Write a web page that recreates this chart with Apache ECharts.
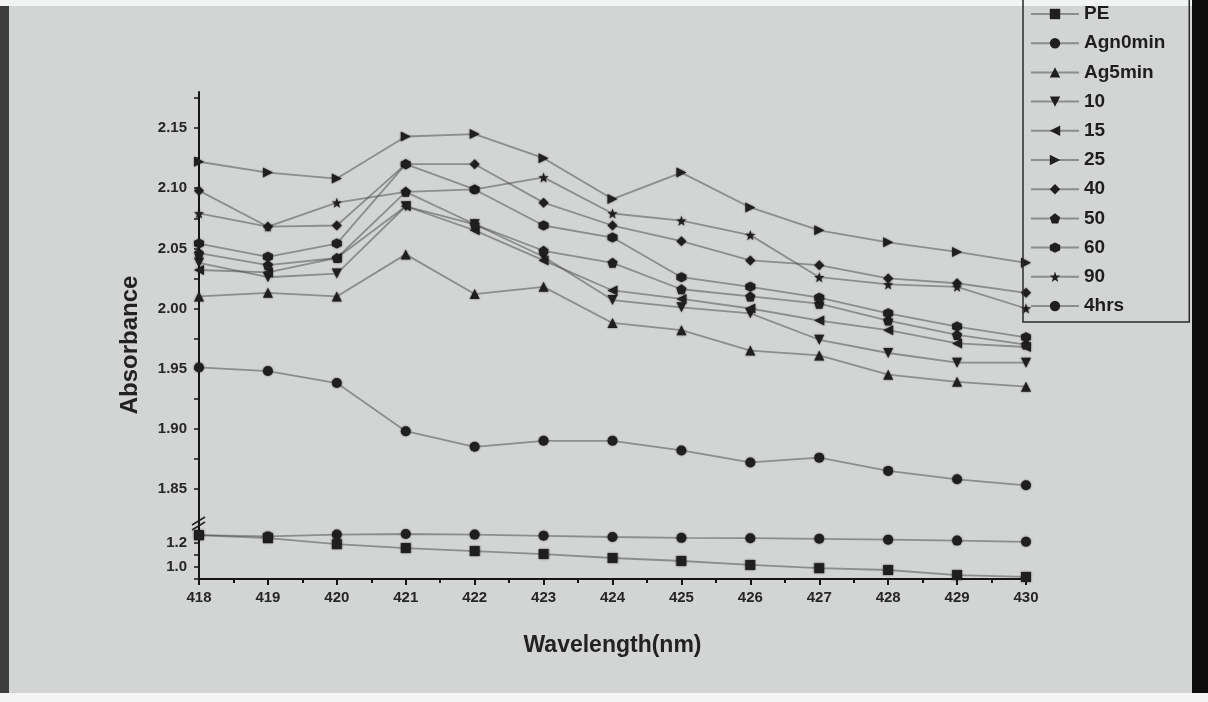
<!DOCTYPE html>
<html lang="en">
<head>
    <meta charset="UTF-8">
    <title>Absorbance vs Wavelength</title>
    <style>
        body { margin: 0; overflow: hidden; background: #d3d5d4; }
        #chart { width: 1208px; height: 702px; }
    </style>
</head>
<body>
    <div id="chart"></div>
    <script src="https://cdn.jsdelivr.net/npm/echarts@6/dist/echarts.min.js"></script>
    <script>
        // data
        var wavelength = [418, 419, 420, 421, 422, 423, 424, 425, 426, 427, 428, 429, 430];
        var seriesNames = ['PE', 'Agn0min', 'Ag5min', '10', '15', '25', '40', '50', '60', '90', '4hrs'];

        // lower (broken) segment
        var pe      = [1.265, 1.24, 1.19, 1.158, 1.133, 1.108, 1.075, 1.05, 1.017, 0.99, 0.975, 0.933, 0.917];
        var agn0min = [1.265, 1.255, 1.27, 1.275, 1.27, 1.26, 1.25, 1.243, 1.24, 1.235, 1.228, 1.22, 1.21];

        // upper segment
        var ag5min = [2.010, 2.013, 2.010, 2.045, 2.012, 2.018, 1.988, 1.982, 1.965, 1.961, 1.945, 1.939, 1.935];
        var t10    = [2.038, 2.026, 2.029, 2.085, 2.070, 2.043, 2.007, 2.001, 1.996, 1.974, 1.963, 1.955, 1.955];
        var t15    = [2.032, 2.030, 2.042, 2.085, 2.065, 2.040, 2.015, 2.008, 2.000, 1.990, 1.982, 1.971, 1.968];
        var t25    = [2.122, 2.113, 2.108, 2.143, 2.145, 2.125, 2.091, 2.113, 2.084, 2.065, 2.055, 2.047, 2.038];
        var t40    = [2.098, 2.068, 2.069, 2.120, 2.120, 2.088, 2.069, 2.056, 2.040, 2.036, 2.025, 2.021, 2.013];
        var t50    = [2.046, 2.036, 2.042, 2.097, 2.070, 2.048, 2.038, 2.016, 2.010, 2.004, 1.990, 1.978, 1.970];
        var t60    = [2.054, 2.043, 2.054, 2.120, 2.099, 2.069, 2.059, 2.026, 2.018, 2.009, 1.996, 1.985, 1.976];
        var t90    = [2.079, 2.068, 2.088, 2.097, 2.099, 2.109, 2.079, 2.073, 2.061, 2.026, 2.020, 2.018, 2.000];
        var t4hrs  = [1.951, 1.948, 1.938, 1.898, 1.885, 1.890, 1.890, 1.882, 1.872, 1.876, 1.865, 1.858, 1.853];

        // tick values
        var upperLabels = [1.85, 1.90, 1.95, 2.00, 2.05, 2.10, 2.15];
        var upperTicks = [1.85, 1.875, 1.90, 1.925, 1.95, 1.975, 2.00, 2.025, 2.05, 2.075, 2.10, 2.125, 2.15, 2.175];
        var lowerLabels = [1.0, 1.2];
        var lowerTicks = [0.9, 1.0, 1.1, 1.2, 1.3];

        var ink = '#1f1f1f';
        var lineGrey = 'rgba(70,70,70,0.5)';
        var font = 'Liberation Sans';

        var pentagon = 'path://M0,-10L9.51,-3.09L5.88,8.09L-5.88,8.09L-9.51,-3.09Z';
        var hexagon = 'path://M0,-10L8.66,-5L8.66,5L0,10L-8.66,5L-8.66,-5Z';
        var star = 'path://M0,-10L2.35,-3.24L9.51,-3.09L3.8,1.24L5.88,8.09L0,4L-5.88,8.09L-3.8,1.24L-9.51,-3.09L-2.35,-3.24Z';

        function pairs(vals) {
            return wavelength.map(function (w, i) { return [w, vals[i]]; });
        }

        function makeSeries(name, vals, symbol, rotate, lower) {
            return {
                name: name,
                type: 'line',
                xAxisIndex: lower ? 1 : 0,
                yAxisIndex: lower ? 1 : 0,
                symbol: symbol,
                symbolRotate: rotate,
                symbolSize: 10,
                showAllSymbol: true,
                lineStyle: { color: lineGrey, width: 1.8 },
                itemStyle: { color: ink, shadowBlur: 2, shadowColor: 'rgba(0,0,0,0.6)' },
                emphasis: { disabled: true },
                data: pairs(vals)
            };
        }

        var labelStyle = { color: '#262626', fontFamily: font, fontWeight: 'bold', fontSize: 15 };
        var axisLineStyle = { show: true, lineStyle: { color: '#151515', width: 2 } };

        var myChart = echarts.init(document.getElementById('chart'));
        var option = {
            backgroundColor: '#d3d5d4',
            animation: false,
            grid: [
                { left: 199, width: 827, top: 92, height: 433 },
                { left: 199, width: 827, top: 525, height: 54 }
            ],
            legend: {
                orient: 'vertical',
                left: 1023,
                top: -10,
                padding: [14, 24, 6, 7],
                itemWidth: 48,
                itemHeight: 13,
                itemGap: 9.2,
                borderColor: '#2a2a2a',
                borderWidth: 1.5,
                selectedMode: false,
                data: seriesNames,
                textStyle: { color: '#1e1e1e', fontFamily: font, fontWeight: 'bold', fontSize: 19, lineHeight: 20 }
            },
            xAxis: [
                { gridIndex: 0, type: 'value', min: 418, max: 430, show: false },
                {
                    gridIndex: 1, type: 'value', min: 418, max: 430, interval: 1,
                    axisLine: axisLineStyle,
                    axisTick: { show: true, length: 6, lineStyle: { color: '#151515', width: 2 } },
                    minorTick: { show: true, splitNumber: 2, length: 4, lineStyle: { color: '#151515', width: 2 } },
                    axisLabel: Object.assign({ margin: 11 }, labelStyle),
                    splitLine: { show: false },
                    name: 'Wavelength(nm)',
                    nameLocation: 'middle',
                    nameGap: 55,
                    nameTextStyle: { color: '#222', fontFamily: font, fontWeight: 'bold', fontSize: 23 }
                }
            ],
            yAxis: [
                {
                    gridIndex: 0, type: 'value', min: 1.82, max: 2.18,
                    axisLine: axisLineStyle,
                    axisTick: { show: true, length: 5, customValues: upperTicks, lineStyle: { color: '#151515', width: 1.5 } },
                    axisLabel: Object.assign({ customValues: upperLabels, margin: 12, formatter: function (v) { return v.toFixed(2); } }, labelStyle),
                    splitLine: { show: false }
                },
                {
                    gridIndex: 1, type: 'value', min: 0.9, max: 1.35,
                    axisLine: axisLineStyle,
                    axisTick: { show: true, length: 5, customValues: lowerTicks, lineStyle: { color: '#151515', width: 1.5 } },
                    axisLabel: Object.assign({ customValues: lowerLabels, margin: 12, formatter: function (v) { return v.toFixed(1); } }, labelStyle),
                    splitLine: { show: false }
                }
            ],
            series: [
                makeSeries('PE', pe, 'rect', 0, true),
                makeSeries('Agn0min', agn0min, 'circle', 0, true),
                makeSeries('Ag5min', ag5min, 'triangle', 0, false),
                makeSeries('10', t10, 'triangle', 180, false),
                makeSeries('15', t15, 'triangle', 90, false),
                makeSeries('25', t25, 'triangle', -90, false),
                makeSeries('40', t40, 'diamond', 0, false),
                makeSeries('50', t50, pentagon, 0, false),
                makeSeries('60', t60, hexagon, 0, false),
                makeSeries('90', t90, star, 0, false),
                makeSeries('4hrs', t4hrs, 'circle', 0, false)
            ]
        };
        myChart.setOption(option);

        // photo edges, axis title and the break mark
        var brk = myChart.convertToPixel({ gridIndex: 1 }, [418, 1.35]);
        myChart.setOption({
            graphic: [
                { type: 'rect', left: 0, top: 0, z: -1, shape: { width: 9, height: 702 }, style: { fill: '#3c3c3c' } },
                { type: 'rect', left: 0, top: 0, z: -1, shape: { width: 1208, height: 6 }, style: { fill: '#f2f3f3' } },
                { type: 'rect', left: 0, top: 693, z: -1, shape: { width: 1208, height: 9 }, style: { fill: '#f4f4f4' } },
                { type: 'rect', left: 1192, top: 0, z: 100, shape: { width: 16, height: 693 }, style: { fill: '#0d0d0d' } },
                {
                    type: 'text', x: 130, y: 345, rotation: Math.PI / 2,
                    style: { text: 'Absorbance', fill: '#222', font: 'bold 24px "Liberation Sans"', align: 'center', verticalAlign: 'middle' }
                },
                {
                    type: 'group', x: brk[0], y: brk[1], z: 100,
                    children: [
                        { type: 'line', shape: { x1: -7, y1: 0, x2: 6, y2: -8 }, style: { stroke: '#222', lineWidth: 1.5 } },
                        { type: 'line', shape: { x1: -7, y1: 5, x2: 6, y2: -3 }, style: { stroke: '#222', lineWidth: 1.5 } }
                    ]
                }
            ]
        });
    </script>
</body>
</html>
